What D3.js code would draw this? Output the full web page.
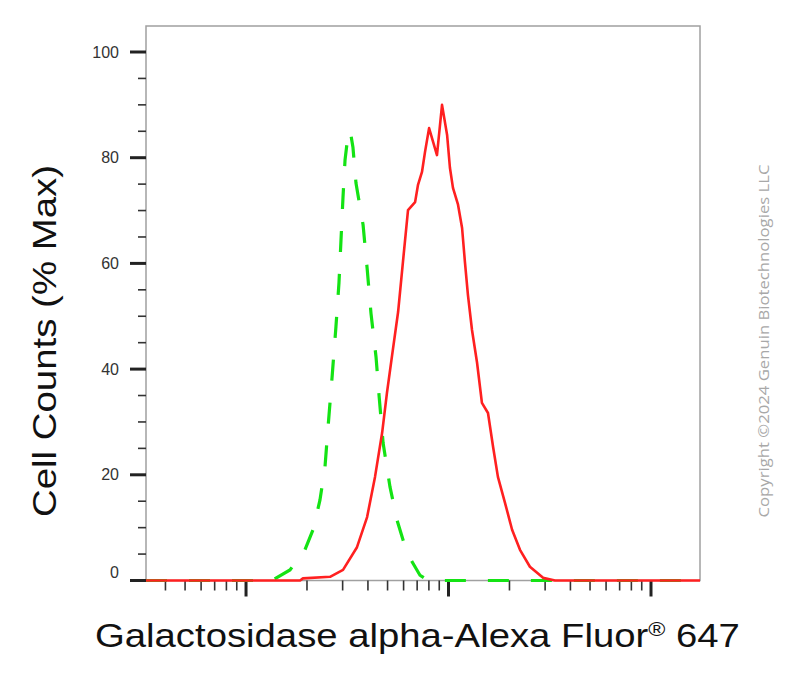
<!DOCTYPE html>
<html>
<head>
<meta charset="utf-8">
<script src="https://cdn.jsdelivr.net/npm/d3@7"></script>
<style>
  html, body { margin: 0; padding: 0; background: #ffffff; }
  svg { display: block; }
</style>
</head>
<body>
<div id="chart"></div>
<script>
// ---- data (x as log10 fluorescence, y as % Max) ----
const yTickValues = [0, 20, 40, 60, 80, 100];
const yTickLabels = ["0", "20", "40", "60", "80", "100"];
const xMajorTicks = [100, 1000, 10000];

const redLog = [1.506, 2.267, 2.281, 2.415, 2.479, 2.548, 2.598, 2.637, 2.672, 2.696, 2.721, 2.751, 2.775, 2.800, 2.835, 2.849, 2.869, 2.884, 2.904, 2.943, 2.968, 2.993, 3.007, 3.022, 3.047, 3.067, 3.081, 3.096, 3.116, 3.141, 3.165, 3.195, 3.220, 3.244, 3.279, 3.314, 3.353, 3.402, 3.467, 3.526, 4.242];
const redPct = [0, 0, 0.4, 0.7, 2.0, 6.3, 12.0, 19.6, 27.9, 35.5, 42.5, 50.8, 60.3, 70.1, 71.6, 74.8, 77.3, 81.1, 85.6, 80.5, 90.0, 84.3, 78.1, 74.3, 71.1, 66.7, 60.3, 54.0, 47.4, 41.2, 33.6, 31.7, 25.3, 19.6, 14.7, 9.6, 5.8, 2.6, 0.5, 0, 0];

const greenLog = [1.506, 2.119, 2.133, 2.217, 2.291, 2.331, 2.365, 2.390, 2.405, 2.425, 2.444, 2.459, 2.469, 2.479, 2.489, 2.499, 2.514, 2.528, 2.543, 2.578, 2.598, 2.617, 2.642, 2.657, 2.677, 2.711, 2.746, 2.795, 2.859, 2.899, 4.242];
const greenPct = [0, 0, 0.1, 2.0, 5.8, 9.6, 15.2, 21.5, 29.0, 38.5, 48.0, 56.3, 64.4, 72.6, 79.6, 82.8, 85.2, 82.0, 75.2, 67.3, 59.1, 50.6, 42.3, 35.0, 26.0, 17.7, 11.4, 5.2, 1.0, 0, 0];

const xTitle = "Galactosidase alpha-Alexa Fluor";
const xTitleSup = "®";
const xTitleEnd = " 647";
const yTitle = "Cell Counts (% Max)";
const copyright = "Copyright ©2024 Genuin Biotechnologies LLC";

// ---- layout ----
const W = 806, H = 690;
const pLeft = 146, pRight = 700, pTop = 26, pBottom = 580.5;

const svg = d3.select("#chart").append("svg").attr("width", W).attr("height", H);

const x = d3.scaleLog().domain([Math.pow(10, 1.506), Math.pow(10, 4.242)]).range([pLeft, pRight]);
const y = d3.scaleLinear().domain([0, 100]).range([pBottom, 52]);

// clip
svg.append("defs").append("clipPath").attr("id", "plotclip")
  .append("rect").attr("x", pLeft).attr("y", pTop).attr("width", pRight - pLeft).attr("height", pBottom - pTop + 2);

// frame
svg.append("rect").attr("x", pLeft).attr("y", pTop).attr("width", pRight - pLeft).attr("height", pBottom - pTop)
  .attr("fill", "none").attr("stroke", "#a0a0a0").attr("stroke-width", 1.5);

// y ticks
const yMinor = y.ticks(20).filter(v => !yTickValues.includes(v));
svg.selectAll(".yminor").data(yMinor).enter().append("line")
  .attr("x1", pLeft - 8).attr("x2", pLeft)
  .attr("y1", d => y(d)).attr("y2", d => y(d))
  .attr("stroke", "#333").attr("stroke-width", 1.6);
svg.selectAll(".ymajor").data(yTickValues).enter().append("line")
  .attr("x1", pLeft - 16).attr("x2", pLeft)
  .attr("y1", d => y(d)).attr("y2", d => y(d))
  .attr("stroke", "#222").attr("stroke-width", 3);
svg.selectAll(".ylab").data(yTickValues).enter().append("text")
  .attr("x", 119).attr("y", d => y(d) + (d === 0 ? -8 : 0))
  .attr("dy", "0.35em").attr("text-anchor", "end")
  .attr("font-family", "Liberation Sans, Arial, sans-serif").attr("font-size", 16)
  .attr("fill", "#333")
  .text((d, i) => yTickLabels[i]);

// x ticks
const xAll = x.ticks().filter(v => v >= x.domain()[0] && v <= x.domain()[1]);
const xMinor = xAll.filter(v => !xMajorTicks.includes(v));
svg.selectAll(".xminor").data(xMinor).enter().append("line")
  .attr("x1", d => x(d)).attr("x2", d => x(d))
  .attr("y1", pBottom).attr("y2", pBottom + 10)
  .attr("stroke", "#333").attr("stroke-width", 1.6);
svg.selectAll(".xmajor").data(xMajorTicks).enter().append("line")
  .attr("x1", d => x(d)).attr("x2", d => x(d))
  .attr("y1", pBottom).attr("y2", pBottom + 16)
  .attr("stroke", "#222").attr("stroke-width", 3);

// curves
const line = d3.line().x(d => x(Math.pow(10, d[0]))).y(d => y(d[1])).curve(d3.curveLinear);
const g = svg.append("g").attr("clip-path", "url(#plotclip)");
g.append("path").datum(greenLog.map((v, i) => [v, greenPct[i]]))
  .attr("d", line).attr("fill", "none").attr("stroke", "#14e314").attr("stroke-width", 3.2)
  .attr("stroke-dasharray", "21,22");
g.append("path").datum(redLog.map((v, i) => [v, redPct[i]]))
  .attr("d", line).attr("fill", "none").attr("stroke", "#ff2020").attr("stroke-width", 2.6)
  .attr("stroke-linejoin", "round");

// x title
const xt = svg.append("text").attr("x", 95).attr("y", 647)
  .attr("font-family", "Liberation Sans, Arial, sans-serif").attr("font-size", 33).attr("fill", "#111");
xt.append("tspan").text(xTitle);
xt.append("tspan").attr("font-size", 20).attr("dy", -11).text(xTitleSup);
xt.append("tspan").attr("dy", 11).text(xTitleEnd);
// stretch to reference width
const bb = xt.node().getBBox();
xt.attr("transform", `translate(95,0) scale(${645 / bb.width},1) translate(-95,0)`);

// y title
svg.append("text")
  .attr("transform", "translate(56,341) rotate(-90)")
  .attr("text-anchor", "middle")
  .attr("font-family", "Liberation Sans, Arial, sans-serif").attr("font-size", 33).attr("fill", "#111")
  .attr("textLength", 352).attr("lengthAdjust", "spacingAndGlyphs")
  .text(yTitle);

// copyright
svg.append("text")
  .attr("transform", "translate(769,341) rotate(-90)")
  .attr("text-anchor", "middle")
  .attr("font-family", "Open Sans, Noto Sans, sans-serif").attr("font-size", 14).attr("fill", "#a8a8a8")
  .attr("textLength", 353).attr("lengthAdjust", "spacingAndGlyphs")
  .text(copyright);
</script>
</body>
</html>
